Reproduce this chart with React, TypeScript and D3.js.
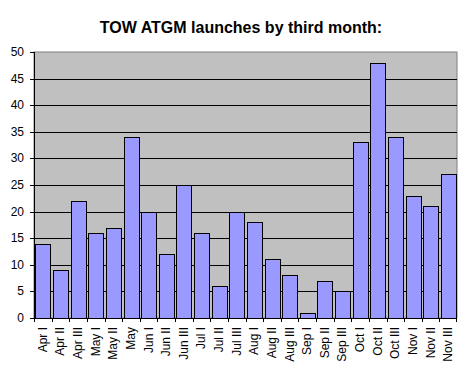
import React from "react";
import * as d3 from "d3";

const categories = ["Apr I","Apr II","Apr III","May I","May II","May","Jun I","Jun II","Jun III","Jul I","Jul II","Jul III","Aug I","Aug II","Aug III","Sep I","Sep II","Sep III","Oct I","Oct II","Oct III","Nov I","Nov II","Nov III"];
const launches = [14,9,22,16,17,34,20,12,25,16,6,20,18,11,8,1,7,5,33,48,34,23,21,27];
const yTicks = [0,5,10,15,20,25,30,35,40,45,50];
const title = "TOW ATGM launches by third month:";

const W = 471, H = 378;
const left = 34, right = 457, top = 52, bottom = 318;
const font = "'Liberation Sans', Arial, sans-serif";

export default function App() {
  const x = d3.scaleBand<string>().domain(categories).range([left, right]).paddingInner(0.16).paddingOuter(0.08);
  const xb = d3.scaleBand<string>().domain(categories).range([left, right]);
  const y = d3.scaleLinear().domain([0, 50]).range([bottom, top]);
  return (
    <svg width={W} height={H} style={{ position: "absolute", left: 0, top: 0, background: "#fff" }}>
      <text x={241} y={33} textAnchor="middle" fontFamily={font} fontWeight="bold" fontSize={16}>{title}</text>
      <rect x={left} y={top} width={right - left} height={bottom - top} fill="#C0C0C0" stroke="#808080" strokeWidth={1} />
      {yTicks.filter(t => t > 0 && t < 50).map(t => (
        <line key={"g" + t} x1={left} x2={right} y1={Math.round(y(t)) + 0.5} y2={Math.round(y(t)) + 0.5} stroke="#000" strokeWidth={1} />
      ))}
      {categories.map((c, i) => (
        <rect key={c} x={Math.round(x(c)!) + 0.5} y={Math.round(y(launches[i])) + 0.5} width={Math.round(x.bandwidth())} height={Math.round(y(0)) - Math.round(y(launches[i]))} fill="#9999FF" stroke="#000" strokeWidth={1} />
      ))}
      <line x1={left + 0.5} x2={left + 0.5} y1={top} y2={bottom} stroke="#000" />
      <line x1={left} x2={right} y1={bottom + 0.5} y2={bottom + 0.5} stroke="#000" />
      {yTicks.map(t => (
        <g key={"y" + t}>
          <line x1={left - 4} x2={left} y1={Math.round(y(t)) + 0.5} y2={Math.round(y(t)) + 0.5} stroke="#000" />
          <text x={left - 10} y={y(t) + 4} textAnchor="end" fontFamily={font} fontSize={12}>{t}</text>
        </g>
      ))}
      {categories.map((c, i) => (
        <line key={"t" + c} x1={Math.round(xb(c)!) + 0.5} x2={Math.round(xb(c)!) + 0.5} y1={bottom} y2={bottom + 4} stroke="#000" />
      ))}
      <line x1={right - 0.5} x2={right - 0.5} y1={bottom} y2={bottom + 4} stroke="#000" />
      {categories.map(c => {
        const cx = xb(c)! + xb.bandwidth() / 2;
        return (
          <text key={"l" + c} transform={`translate(${cx + 4},${bottom + 9}) rotate(-90)`} textAnchor="end" fontFamily={font} fontSize={12}>{c}</text>
        );
      })}
    </svg>
  );
}
